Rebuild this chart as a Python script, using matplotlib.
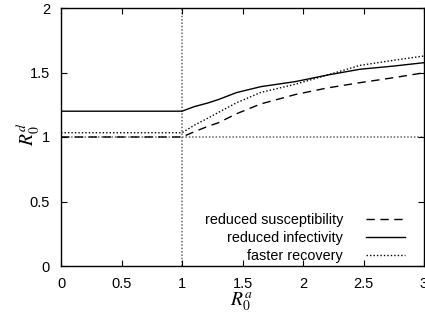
import numpy as np
import matplotlib
matplotlib.use("Agg")
import matplotlib.pyplot as plt

plt.rcParams['font.family'] = ['Liberation Sans', 'DejaVu Sans']
plt.rcParams['mathtext.fontset'] = 'stix'

# values
r0a = [0, 1, 1.1, 1.215, 1.3, 1.45, 1.65, 1.94, 2.2, 2.47, 2.75, 3]
red_susc = [1.0, 1.0, 1.04, 1.083, 1.11, 1.18, 1.256, 1.33, 1.38, 1.421, 1.46, 1.498]
red_inf = [1.2, 1.2, 1.235, 1.264, 1.29, 1.344, 1.39, 1.43, 1.48, 1.525, 1.55, 1.576]
fast_rec = [1.033, 1.033, 1.09, 1.147, 1.19, 1.265, 1.345, 1.41, 1.48, 1.555, 1.595, 1.628]

xticks = [0, 0.5, 1, 1.5, 2, 2.5, 3]
yticks = [0, 0.5, 1, 1.5, 2]

fig = plt.figure(figsize=(4.25, 3.18), dpi=100)
ax = fig.add_axes([61/425, 52/318, 363/425, 258/318])

# threshold lines
ax.axvline(1, color='#666666', ls=(0, (1, 1.2)), lw=1.1, zorder=1)
ax.axhline(1, color='#666666', ls=(0, (1, 1.2)), lw=1.1, zorder=1)

ax.plot(r0a, red_susc, color='black', ls=(0, (6, 4)), lw=1.0, label='reduced susceptibility')
ax.plot(r0a, red_inf, color='black', ls='-', lw=1.0, label='reduced infectivity')
ax.plot(r0a, fast_rec, color='black', ls=(0, (1, 1.5)), lw=1.0, label='faster recovery')

ax.set_xlim(0, 3)
ax.set_ylim(0, 2)
ax.set_xticks(xticks)
ax.set_xticklabels(['0', '0.5', '1', '1.5', '2', '2.5', '3'])
ax.set_yticks(yticks)
ax.set_yticklabels(['0', '0.5', '1', '1.5', '2'])
ax.tick_params(direction='in', top=True, right=True, length=4, width=0.8, labelsize=10.5)
ax.tick_params(axis='x', pad=8)
ax.tick_params(axis='y', pad=8)
for s in ax.spines.values():
    s.set_linewidth(1.0)

ax.set_xlabel(r'$R_0^a$', fontsize=14)
ax.set_ylabel(r'$R_0^d$', fontsize=14)
ax.xaxis.set_label_coords(0.496, -0.136)
ax.yaxis.set_label_coords(-0.091, 0.51)
ax.xaxis.label.set_va('center')
ax.yaxis.label.set_va('center')

ax.legend(loc='lower right', bbox_to_anchor=(405/425, (318-263)/318),
          bbox_transform=fig.transFigure, borderaxespad=0, borderpad=0,
          frameon=False, markerfirst=False, alignment='right',
          fontsize=10.4, handlelength=2.7, handletextpad=1.6, labelspacing=0.28)

fig.savefig('out.png', dpi=100)
